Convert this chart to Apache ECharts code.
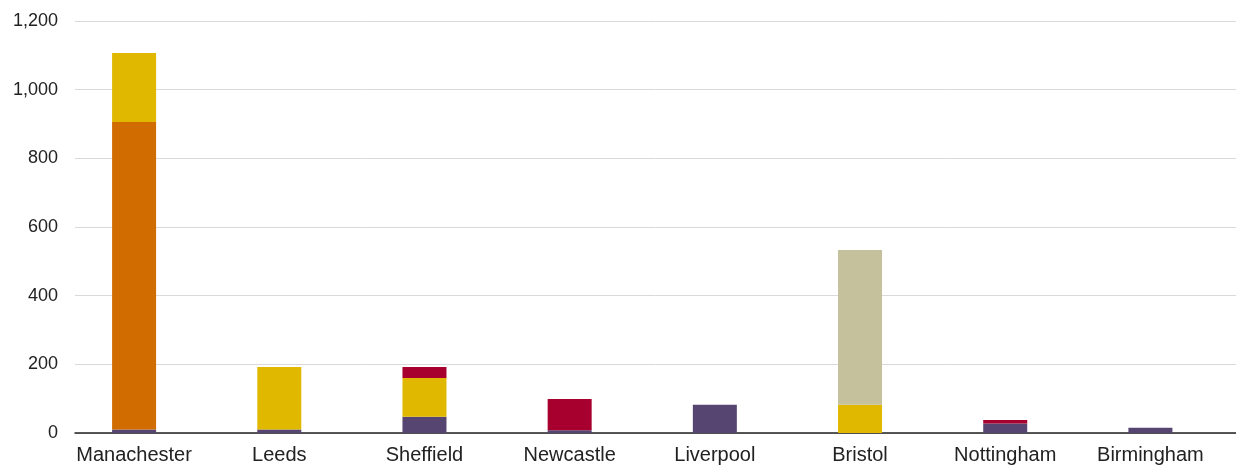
<!DOCTYPE html>
<html><head><meta charset="utf-8">
<script src="https://cdn.jsdelivr.net/npm/echarts@6/dist/echarts.min.js"></script>
<style>html,body{margin:0;padding:0;background:#fff}#c{width:1236px;height:465px}</style>
</head><body><div id="c"></div>
<script>
const categories = ["Manachester","Leeds","Sheffield","Newcastle","Liverpool","Bristol","Nottingham","Birmingham"];
const purple = [10, 10, 47, 8, 82, 0, 28, 15];
const orange = [896, 0, 0, 0, 0, 0, 0, 0];
const yellow = [201, 182, 113, 0, 0, 82, 0, 0];
const beige  = [0, 0, 0, 0, 0, 451, 0, 0];
const red    = [0, 0, 32, 91, 0, 0, 10, 0];
const yTicks = [0, 200, 400, 600, 800, 1000, 1200];

const font = "'Liberation Sans', Arial, Helvetica, sans-serif";
const mk = (name, data, color) => ({
  name, type: 'bar', stack: 'all', data, xAxisIndex: 1, yAxisIndex: 1,
  barWidth: 44, itemStyle: { color }, emphasis: { disabled: true }
});
const chart = echarts.init(document.getElementById('c'));
chart.setOption({
  animation: false,
  grid: [
    { left: 75, right: 0, top: 21, bottom: 32 },
    { left: 61.5, right: 13, top: 21, bottom: 32 }
  ],
  xAxis: [
    { gridIndex: 0, type: 'category', data: categories, show: true,
      axisLine: { lineStyle: { color: '#222', width: 1.5 } }, axisTick: { show: false },
      axisLabel: { show: false } },
    { gridIndex: 1, type: 'category', data: categories,
      axisLine: { show: false }, axisTick: { show: false },
      axisLabel: { color: '#222', fontSize: 20, fontFamily: font, margin: 12, interval: 0 } }
  ],
  yAxis: [
    { gridIndex: 0, type: 'value', min: yTicks[0], max: yTicks[yTicks.length-1], interval: 200,
      axisLine: { show: false }, axisTick: { show: false },
      splitLine: { lineStyle: { color: '#d9d9d9', width: 1 } },
      axisLabel: { color: '#222', fontSize: 18, fontFamily: font, margin: 17,
        formatter: v => v.toLocaleString('en-US') } },
    { gridIndex: 1, type: 'value', min: yTicks[0], max: yTicks[yTicks.length-1], interval: 200,
      show: false, splitLine: { show: false } }
  ],
  series: [
    mk('purple', purple, '#574571'),
    mk('orange', orange, '#d16c00'),
    mk('yellow', yellow, '#e0b800'),
    mk('beige', beige, '#c4c19c'),
    mk('red', red, '#a7002f')
  ]
});
</script></body></html>
